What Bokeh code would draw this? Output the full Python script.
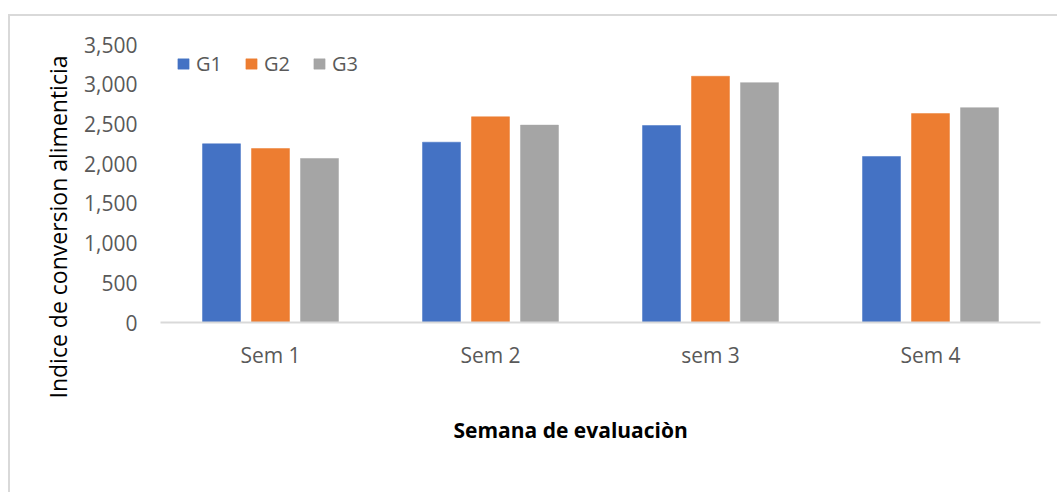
from bokeh.plotting import figure
from bokeh.models import (FactorRange, Range1d, FixedTicker, NumeralTickFormatter,
                          Legend, LegendItem, Title, ColumnDataSource)
from bokeh.transform import dodge
from bokeh.embed import file_html
from bokeh.resources import INLINE

weeks = ["Sem 1", "Sem 2", "sem 3", "Sem 4"]
series = ["G1", "G2", "G3"]
g1 = [2250, 2270, 2480, 2090]
g2 = [2190, 2590, 3100, 2630]
g3 = [2065, 2485, 3020, 2705]
y_ticks = [0, 500, 1000, 1500, 2000, 2500, 3000, 3500]
colors = ["#4472C4", "#ED7D31", "#A5A5A5"]

src = ColumnDataSource(dict(week=weeks, G1=g1, G2=g2, G3=g3))

p = figure(x_range=FactorRange(*weeks, range_padding=0), y_range=Range1d(0, 3500),
           width=1049, height=478, output_backend="svg", toolbar_location=None,
           title=None, min_border_left=150, min_border_right=19,
           min_border_top=28, min_border_bottom=172,
           margin=(14, 0, 0, 8),
           styles={"border-top": "2px solid #d9d9d9", "border-left": "2px solid #d9d9d9"})
p.outline_line_color = None
p.background_fill_color = "white"
p.border_fill_color = "white"

offsets = [-0.2227, 0.0, 0.2227]
renderers = []
for s, off, c in zip(series, offsets, colors):
    r = p.vbar(x=dodge("week", off, range=p.x_range), top=s, width=0.1727, source=src,
               fill_color=c, line_color=c, line_width=0.5)
    renderers.append(r)

p.xgrid.grid_line_color = None
p.ygrid.grid_line_color = None

# y axis
p.yaxis.ticker = FixedTicker(ticks=y_ticks)
p.yaxis.formatter = NumeralTickFormatter(format="0,0")
p.yaxis.axis_line_color = None
p.yaxis.major_tick_line_color = None
p.yaxis.minor_tick_line_color = None
p.yaxis.major_tick_out = 0
p.yaxis.major_tick_in = 0
p.yaxis.major_label_standoff = 23
p.yaxis.major_label_text_font = "Open Sans"
p.yaxis.major_label_text_font_size = "21px"
p.yaxis.major_label_text_color = "#595959"

# x axis
p.xaxis.axis_line_color = "#d9d9d9"
p.xaxis.axis_line_width = 2
p.xaxis.major_tick_line_color = None
p.xaxis.minor_tick_line_color = None
p.xaxis.major_tick_out = 0
p.xaxis.major_tick_in = 0
p.xaxis.major_label_standoff = 18
p.xaxis.major_label_text_font = "Open Sans"
p.xaxis.major_label_text_font_size = "21px"
p.xaxis.major_label_text_color = "#595959"

p.add_layout(Title(text="Semana de evaluaciòn", align="left", offset=293,
                   text_font="Open Sans", text_font_size="21px", text_font_style="bold",
                   text_color="#000000", standoff=84), "below")
p.add_layout(Title(text="Indice de conversion alimenticia", align="left", offset=-76,
                   text_font="Open Sans", text_font_size="23px", text_font_style="normal",
                   text_color="#000000", standoff=15), "left")

legend = Legend(items=[LegendItem(label=s, renderers=[r]) for s, r in zip(series, renderers)],
                location=(16, 245), orientation="horizontal",
                glyph_width=14, glyph_height=13, label_standoff=6, spacing=22,
                padding=0, margin=0, border_line_color=None, background_fill_alpha=0,
                label_text_font="Open Sans", label_text_font_size="20px",
                label_text_color="#595959", label_height=13)
p.add_layout(legend)

open("out.html", "w").write(file_html(p, INLINE))
